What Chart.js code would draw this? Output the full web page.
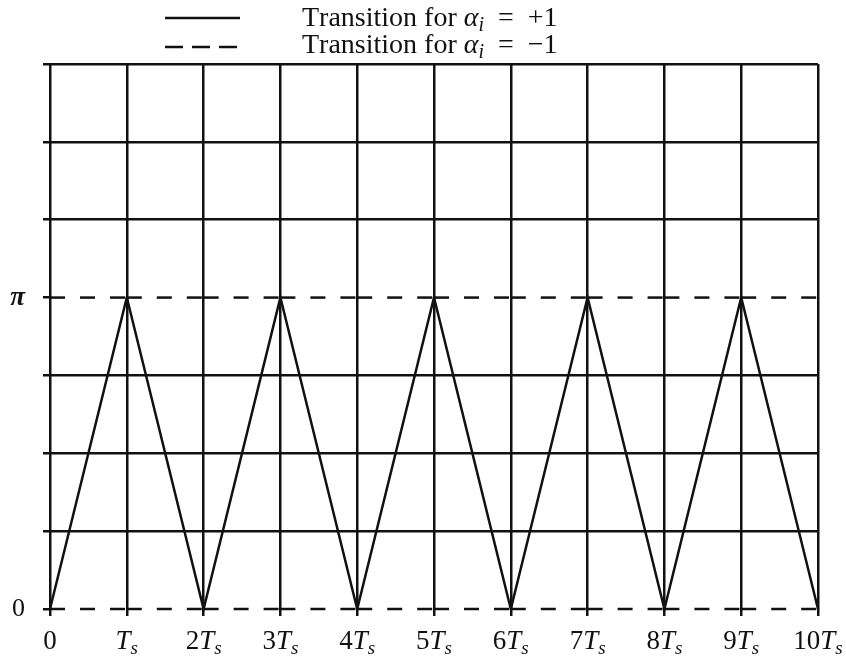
<!DOCTYPE html>
<html>
<head>
<meta charset="utf-8">
<title>Transições de fase</title>
<script src="https://cdn.jsdelivr.net/npm/chart.js@4.4.1/dist/chart.umd.min.js"></script>
<style>
  html, body { margin: 0; padding: 0; background: #fff; }
  #grafico { display: block; }
</style>
</head>
<body>
<canvas id="grafico" width="846" height="659"></canvas>
<script>
// Dados (fase em unidades de pi, tempo em unidades de Ts)
const tempos = [0, 1, 2, 3, 4, 5, 6, 7, 8, 9, 10];
const fasePositiva = [0, 1, 0, 1, 0, 1, 0, 1, 0, 1, 0];
const faseNegativaPi = [1, 1, 1, 1, 1, 1, 1, 1, 1, 1, 1];
const faseNegativaZero = [0, 0, 0, 0, 0, 0, 0, 0, 0, 0, 0];
const rotulosX = ['0', 'Ts', '2Ts', '3Ts', '4Ts', '5Ts', '6Ts', '7Ts', '8Ts', '9Ts', '10Ts'];
const rotulosY = { 0: '0', 1: 'π' };
const legendas = ['Transition for α_i = +1', 'Transition for α_i = −1'];

const PRETO = '#111';
const FONTE = "'Liberation Serif', 'DejaVu Serif', serif";

const pontos = ys => tempos.map((t, i) => ({ x: t, y: ys[i] }));

// cada intervalo Ts vira um traço separado, assim o tracejado recomeça em cada Ts
const reiniciaTracejado = { borderDashOffset: c => (c.p0DataIndex % 2 ? 0.001 : 0) };

// Texto com partes em itálico e subscrito (ex.: "T_s", "α_i")
function partesTexto(txt, tam) {
    const partes = [];
    const re = /([A-Za-zα])_([a-z])|(T)(s)$|( = )|([^_])/g;
    let m;
    while ((m = re.exec(txt)) !== null) {
        if (m[1]) {
            partes.push({ t: m[1], f: `italic ${tam}px ${FONTE}`, dy: 0 });
            partes.push({ t: m[2], f: `italic ${Math.round(tam * 0.7)}px ${FONTE}`, dy: tam * 0.18 });
        } else if (m[3]) {
            partes.push({ t: 'T', f: `italic ${tam}px ${FONTE}`, dy: 0 });
            partes.push({ t: 's', f: `italic ${Math.round(tam * 0.7)}px ${FONTE}`, dy: tam * 0.18 });
        } else if (m[5]) {
            // espaço mais largo em volta do "=", como em fórmula
            partes.push({ t: '\u2002=\u2002', f: `${tam}px ${FONTE}`, dy: 0 });
        } else {
            partes.push({ t: m[6], f: `${tam}px ${FONTE}`, dy: 0 });
        }
    }
    return partes;
}

function desenhaPartes(ctx, partes, x, y, alinhamento) {
    let largura = 0;
    partes.forEach(p => { ctx.font = p.f; largura += ctx.measureText(p.t).width; });
    let cx = alinhamento === 'center' ? x - largura / 2 : x;
    partes.forEach(p => {
        ctx.font = p.f;
        ctx.fillText(p.t, cx, y + p.dy);
        cx += ctx.measureText(p.t).width;
    });
}

// Rótulos do eixo x com subscrito
const rotulosEixoX = {
    id: 'rotulosEixoX',
    afterDraw(chart) {
        const ctx = chart.ctx;
        const escala = chart.scales.x;
        ctx.save();
        ctx.fillStyle = PRETO;
        ctx.textBaseline = 'alphabetic';
        ctx.textAlign = 'left';
        rotulosX.forEach((r, i) => {
            const px = escala.getPixelForValue(tempos[i]);
            desenhaPartes(ctx, partesTexto(r, 27), px, 649, 'center');
        });
        ctx.restore();
    }
};

// Legenda em duas linhas no topo
const legendaTopo = {
    id: 'legendaTopo',
    afterDraw(chart) {
        const ctx = chart.ctx;
        ctx.save();
        ctx.fillStyle = PRETO;
        ctx.strokeStyle = PRETO;
        ctx.lineWidth = 2.5;
        ctx.textBaseline = 'alphabetic';
        ctx.textAlign = 'left';
        const linhas = [
            { yLinha: 18, yTexto: 26, traco: [] },
            { yLinha: 47, yTexto: 53, traco: [18, 9] }
        ];
        linhas.forEach((l, i) => {
            ctx.setLineDash(l.traco);
            ctx.beginPath();
            ctx.moveTo(165, l.yLinha);
            ctx.lineTo(240, l.yLinha);
            ctx.stroke();
            desenhaPartes(ctx, partesTexto(legendas[i], 28), 302, l.yTexto, 'left');
        });
        ctx.restore();
    }
};

const estiloLinha = {
    borderColor: PRETO,
    borderWidth: 2.5,
    pointRadius: 0,
    tension: 0,
    fill: false,
    clip: false
};

new Chart(document.getElementById('grafico'), {
    type: 'line',
    data: {
        datasets: [
            { label: legendas[0], data: pontos(fasePositiva), ...estiloLinha },
            { label: legendas[1], data: pontos(faseNegativaPi), ...estiloLinha, borderDash: [15, 15], segment: reiniciaTracejado },
            { label: legendas[1], data: pontos(faseNegativaZero), ...estiloLinha, borderDash: [15, 15], segment: reiniciaTracejado }
        ]
    },
    options: {
        responsive: false,
        animation: false,
        layout: { padding: { top: 64, right: 28, left: 0, bottom: 0 } },
        plugins: {
            legend: { display: false },
            tooltip: { enabled: false }
        },
        scales: {
            x: {
                type: 'linear',
                min: 0,
                max: 10,
                ticks: { stepSize: 1, display: false },
                grid: { color: PRETO, lineWidth: 2.5, tickLength: 7, tickColor: PRETO },
                border: { display: false },
                afterFit: s => { s.height = 50; }
            },
            y: {
                type: 'linear',
                min: 0,
                max: 1.75,
                ticks: {
                    stepSize: 0.25,
                    autoSkip: false,
                    padding: 18,
                    color: PRETO,
                    font: c => (c.tick && c.tick.value === 1)
                        ? { family: FONTE, size: 27, style: 'italic', weight: 'bold' }
                        : { family: FONTE, size: 26 },
                    callback: v => rotulosY[v] || ''
                },
                grid: {
                    // em 0 e pi ficam só as linhas tracejadas
                    color: c => (c.tick && (c.tick.value === 0 || c.tick.value === 1)) ? 'rgba(0,0,0,0)' : PRETO,
                    lineWidth: 2.5,
                    tickLength: 7,
                    tickColor: PRETO
                },
                border: { display: false },
                afterFit: s => { s.width = 50; }
            }
        }
    },
    plugins: [rotulosEixoX, legendaTopo]
});
</script>
</body>
</html>
